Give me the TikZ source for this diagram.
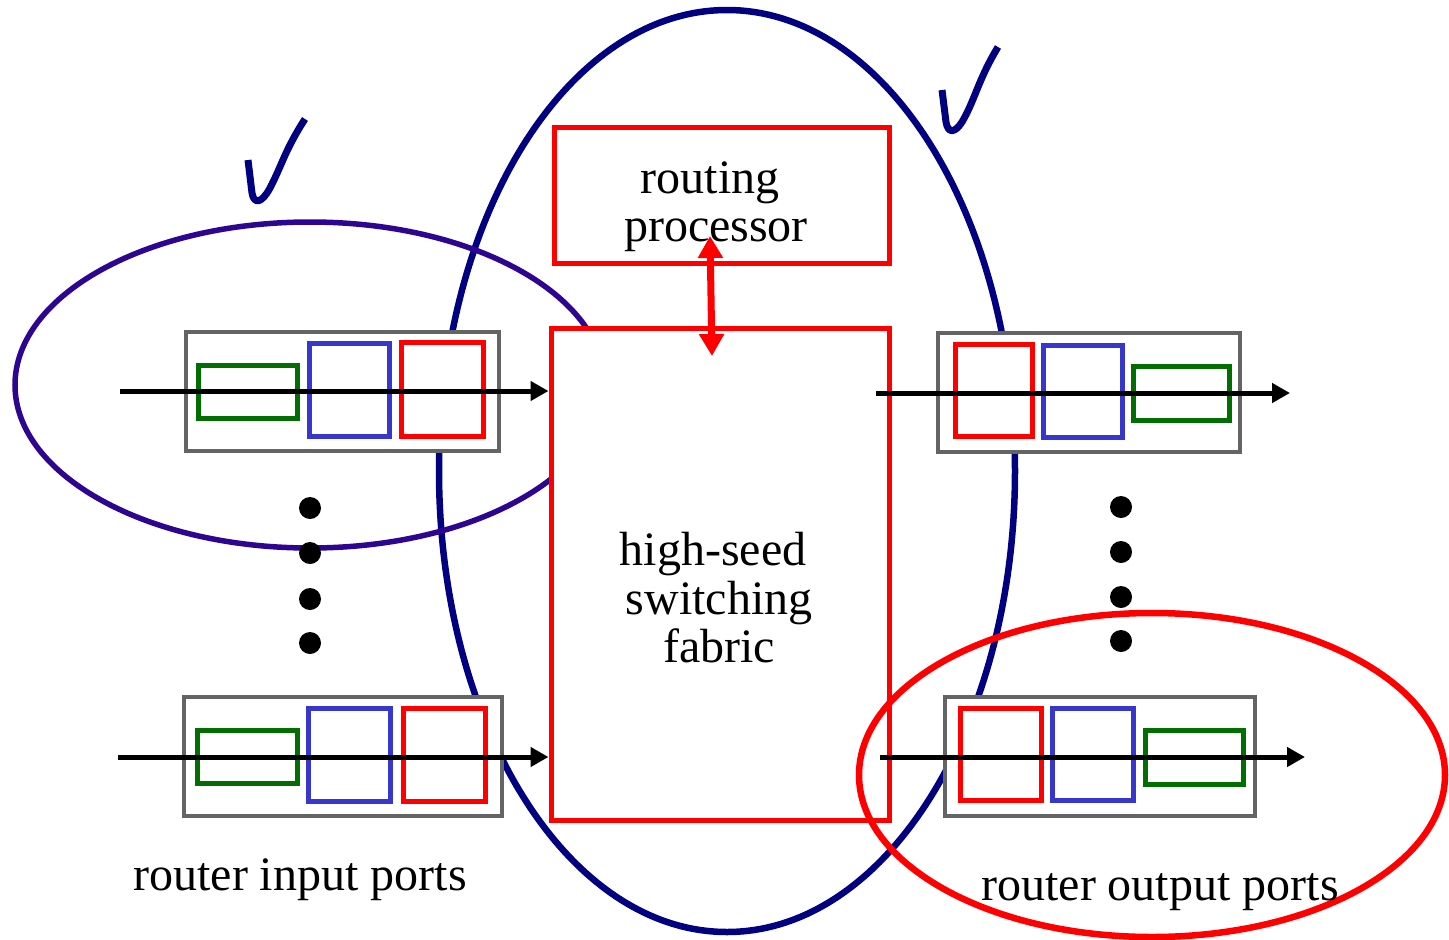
\documentclass[tikz,border=0pt]{standalone}
\usepackage{fontspec}
\setmainfont{Liberation Serif}
\usetikzlibrary{arrows.meta}
\definecolor{navyc}{RGB}{0,0,128}
\definecolor{indigoc}{RGB}{45,5,145}
\definecolor{greenc}{RGB}{0,110,0}
\definecolor{bluec}{RGB}{55,55,205}
\definecolor{grayc}{RGB}{100,100,100}
\begin{document}
\begin{tikzpicture}[x=1pt,y=-1pt,
  box/.style={draw,fill=white,inner sep=0pt,rectangle},
  redbox/.style={box,draw=red,line width=5pt},
  portbox/.style={box,draw=grayc,line width=3.3pt},
  gbox/.style={box,fill=none,draw=greenc,line width=5pt},
  bbox/.style={box,fill=none,draw=bluec,line width=5pt},
  rbox/.style={box,fill=none,draw=red,line width=5pt},
  arr/.style={line width=5pt,-{Triangle[length=18pt,width=19pt]}},
  dotn/.style={circle,fill=black,inner sep=0pt,minimum size=22pt},
  lbl/.style={anchor=base,inner sep=0pt,font=\fontsize{48}{48}\selectfont},
  chk/.style={draw=navyc,line width=7pt,line cap=butt,line join=round}]
\useasboundingbox (0,0) rectangle (1449,940);
% big ellipse
\draw[navyc,line width=6.5pt] (727,471) ellipse [x radius=288, y radius=461];
% left ellipse
\draw[indigoc,line width=5.5pt] (310,385) ellipse [x radius=295, y radius=163];
% fabric and routing processor
\node[redbox,minimum width=338pt,minimum height=492pt] (fab) at (720,574) {};
\node[redbox,minimum width=335pt,minimum height=136pt] (rp) at (721.5,195) {};
% input port 1
\node[portbox,minimum width=313pt,minimum height=119pt] (in1) at (342.5,391.5) {};
\node[gbox,minimum width=99pt,minimum height=53pt] (in1g) at (247.5,391.5) {};
\node[bbox,minimum width=80pt,minimum height=93pt] (in1b) at (349,389.5) {};
\node[rbox,minimum width=82pt,minimum height=94pt] (in1r) at (442,389) {};
% input port 2
\node[portbox,minimum width=318pt,minimum height=119pt] (in2) at (343,756.5) {};
\node[gbox,minimum width=100pt,minimum height=53pt] (in2g) at (247,756.5) {};
\node[bbox,minimum width=82pt,minimum height=93pt] (in2b) at (349,754.5) {};
\node[rbox,minimum width=82pt,minimum height=93pt] (in2r) at (444,754.5) {};
% output port 1
\node[portbox,minimum width=302pt,minimum height=119pt] (out1) at (1089,392.5) {};
\node[rbox,minimum width=77pt,minimum height=92pt] (out1r) at (993.5,390) {};
\node[bbox,minimum width=79pt,minimum height=92pt] (out1b) at (1082.5,391) {};
\node[gbox,minimum width=96pt,minimum height=54pt] (out1g) at (1181,393) {};
% output port 2
\node[portbox,minimum width=310pt,minimum height=119pt] (out2) at (1100,756.5) {};
\node[rbox,minimum width=81pt,minimum height=92pt] (out2r) at (1000.5,754) {};
\node[bbox,minimum width=81pt,minimum height=92pt] (out2b) at (1092.5,754) {};
\node[gbox,minimum width=98pt,minimum height=54pt] (out2g) at (1194,757) {};
% arrows
\coordinate (s1) at (120,391);
\coordinate (s2) at (118,757);
\coordinate (o1s) at (876,393);
\coordinate (o1e) at (1290,393);
\coordinate (o2s) at (880,757);
\coordinate (o2e) at (1305,757);
\draw[arr] (s1) -- (s1 -| fab.west);
\draw[arr] (s2) -- (s2 -| fab.west);
\draw[arr] (o1s) -- (o1e);
\draw[arr] (o2s) -- (o2e);
\coordinate (rpa) at (710,236);
\coordinate (fba) at (712,356);
\draw[red,line width=7pt,{Triangle[length=22pt,width=24pt]}-{Triangle[length=22pt,width=24pt]}] (rpa) -- (fba);
% red ellipse
\draw[red,line width=6.5pt] (1152,775) ellipse [x radius=293, y radius=162];
% dots
\node[dotn] (dl1) at (310,508) {};
\node[dotn] (dl2) at (310,553) {};
\node[dotn] (dl3) at (310,599) {};
\node[dotn] (dl4) at (310,643) {};
\node[dotn] (dr1) at (1121,507) {};
\node[dotn] (dr2) at (1121,552) {};
\node[dotn] (dr3) at (1121,597) {};
\node[dotn] (dr4) at (1121,641) {};
% checkmarks
\draw[chk] (248,160) -- (252,193) .. controls (254,205) and (262,203) .. (270,188) .. controls (282,165) and (285,150) .. (305,119);
\draw[chk] (942,90) -- (946,122) .. controls (948,134) and (955,133) .. (962,122) .. controls (975,100) and (978,80) .. (998,47);
% labels
\node[lbl] (t1) at (710,193) {routing};
\node[lbl] (t2) at (716,241) {processor};
\node[lbl] (t3) at (713,565) {high-seed};
\node[lbl] (t4) at (719,614) {switching};
\node[lbl] (t5) at (719,662) {fabric};
\node[lbl] (t6) at (300,890) {router input ports};
\node[lbl] (t7) at (1160,900) {router output ports};
\end{tikzpicture}
\end{document}
